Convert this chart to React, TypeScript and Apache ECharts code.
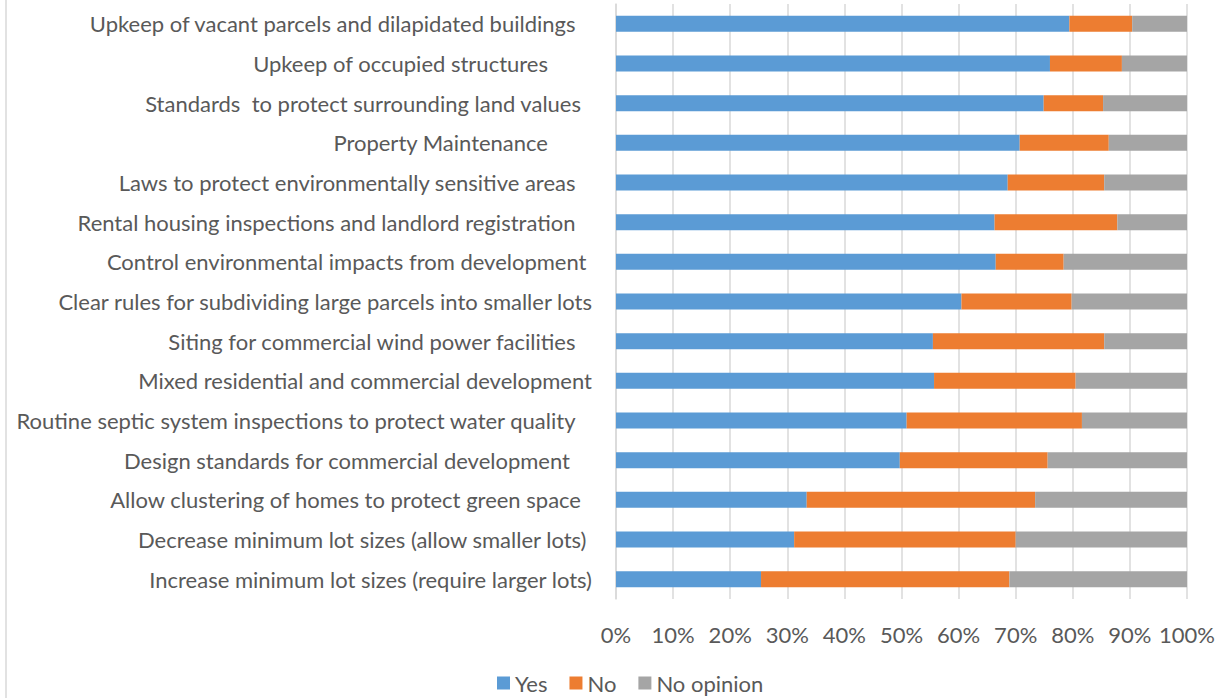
import React, { useEffect, useRef } from "react";
import * as echarts from "echarts";

// Categories top-to-bottom, with trailing-space counts as in the source labels
const categories = [
  "Upkeep of vacant parcels and dilapidated buildings   ",
  "Upkeep of occupied structures        ",
  "Standards  to protect surrounding land values  ",
  "Property Maintenance        ",
  "Laws to protect environmentally sensitive areas   ",
  "Rental housing inspections and landlord registration   ",
  "Control environmental impacts from development ",
  "Clear rules for subdividing large parcels into smaller lots",
  "Siting for commercial wind power facilities   ",
  "Mixed residential and commercial development",
  "Routine septic system inspections to protect water quality   ",
  "Design standards for commercial development    ",
  "Allow clustering of homes to protect green space  ",
  "Decrease minimum lot sizes (allow smaller lots) ",
  "Increase minimum lot sizes (require larger lots)",
];

const yesValues = [79.4, 76.0, 74.9, 70.7, 68.6, 66.3, 66.5, 60.5, 55.5, 55.7, 50.9, 49.7, 33.4, 31.2, 25.4];
const noValues = [11.0, 12.6, 10.4, 15.6, 16.9, 21.5, 11.9, 19.3, 30.0, 24.8, 30.7, 25.9, 40.0, 38.8, 43.5];
const noOpinionValues = [9.6, 11.4, 14.7, 13.7, 14.5, 12.2, 21.6, 20.2, 14.5, 19.5, 18.4, 24.4, 26.6, 30.0, 31.1];

const seriesNames = ["Yes", "No", "No opinion"];
const xTicks = [0, 10, 20, 30, 40, 50, 60, 70, 80, 90, 100];

const FONT = "Lato, 'Open Sans', sans-serif";
const FS = 22;
const TEXT = "#595959";
const SPACE_W = 5.5;

export default function App() {
  const ref = useRef<HTMLDivElement>(null);
  useEffect(() => {
    document.body.style.margin = "0";
    if (!ref.current) return;
    const chart = echarts.init(ref.current, undefined, { renderer: "svg" });
    const rich: Record<string, any> = {
      t: { fontFamily: FONT, fontSize: FS, color: TEXT },
    };
    for (let i = 1; i <= 12; i++) {
      rich["s" + i] = { width: i * SPACE_W, fontSize: FS, fontFamily: FONT };
    }
    chart.setOption({
      animation: false,
      textStyle: { fontFamily: FONT },
      graphic: [
        {
          type: "line",
          shape: { x1: 6, y1: 0, x2: 6, y2: 698 },
          style: { stroke: "#d9d9d9", lineWidth: 1.5 },
        },
      ],
      grid: { left: 616, right: 31, top: 4, bottom: 99, containLabel: false },
      legend: {
        data: seriesNames,
        left: 492,
        top: 667,
        itemWidth: 13,
        itemHeight: 13,
        itemGap: 22,
        icon: "rect",
        textStyle: { fontFamily: FONT, fontSize: FS, color: TEXT },
      },
      xAxis: {
        type: "value",
        min: xTicks[0],
        max: xTicks[xTicks.length - 1],
        interval: 10,
        axisLine: { show: false },
        axisTick: { show: false },
        splitLine: { show: true, lineStyle: { color: "#d9d9d9", width: 1.5 } },
        axisLabel: {
          formatter: (v: number) => v + "%",
          fontFamily: FONT,
          fontSize: FS,
          color: TEXT,
          margin: 24,
        },
      },
      yAxis: {
        type: "category",
        data: categories,
        inverse: true,
        axisLine: { show: true, lineStyle: { color: "#d9d9d9", width: 1.5 } },
        axisTick: { show: false },
        axisLabel: {
          margin: 24,
          formatter: (v: string) => {
            const trimmed = v.replace(/\s+$/, "");
            const n = v.length - trimmed.length;
            return n > 0 ? `{t|${trimmed}}{s${n}| }` : `{t|${trimmed}}`;
          },
          rich,
        },
      },
      series: [
        { name: seriesNames[0], data: yesValues, color: "#5B9BD5" },
        { name: seriesNames[1], data: noValues, color: "#ED7D31" },
        { name: seriesNames[2], data: noOpinionValues, color: "#A5A5A5" },
      ].map((s) => ({
        type: "bar",
        stack: "total",
        name: s.name,
        data: s.data,
        barWidth: 16,
        itemStyle: { color: s.color },
      })),
    });
    return () => chart.dispose();
  }, []);
  return <div ref={ref} style={{ width: 1218, height: 698 }} />;
}
